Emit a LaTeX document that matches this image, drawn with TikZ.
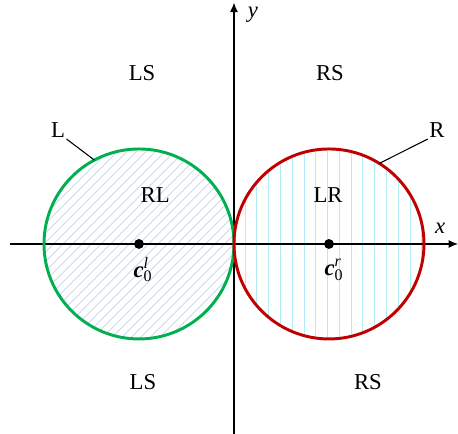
\documentclass[tikz,border=0pt]{standalone}
\usepackage{fontspec}
\setmainfont{Liberation Serif}
\definecolor{circgreen}{RGB}{0,176,80}
\definecolor{circred}{RGB}{192,0,0}
\definecolor{hatchblue}{RGB}{205,218,236}
\definecolor{hatchcyan}{RGB}{175,238,245}
\newcommand{\cvec}[1]{\textbf{\textit{c}}\rlap{\raisebox{-0.45ex}{\fontsize{12}{12}\selectfont 0}}\raisebox{0.85ex}{\fontsize{12}{12}\selectfont\textit{#1}}}
\tikzset{
	region/.style={font=\fontsize{17}{19}\selectfont, inner sep=1pt},
	axis/.style={line width=0.9pt, -{Latex[length=7pt,width=6pt]}},
	leader/.style={line width=0.8pt}
}
\usetikzlibrary{arrows.meta,calc}
\begin{document}
\begin{tikzpicture}[x=2.5cm,y=2.5cm]
		\useasboundingbox (-2.463,-2.0) rectangle (2.358,2.568);
		%draw hatching
		\begin{scope}
			\clip (-1,0) circle (1);
			\foreach \i in {-30,...,30}
				\draw [hatchblue, line width=0.6pt] ({-1+0.1*\i-1.2},-1.2) -- ({-1+0.1*\i+1.2},1.2);
		\end{scope}
		\begin{scope}
			\clip (1,0) circle (1);
			\foreach \i in {0,...,16}
				\draw [hatchcyan, line width=0.6pt] ({0.117+0.124*\i},-1.1) -- ({0.117+0.124*\i},1.1);
		\end{scope}
		%draw coordinate system
		\coordinate (xs) at (-2.358,0);
		\coordinate (xe) at (2.358,0);
		\coordinate (ys) at (0,-2.0);
		\coordinate (ye) at (0,2.54);
		\draw [axis] (xs) -- (xe);
		\draw [axis] (ys) -- (ye);
		\node [region] (xlab) at (2.17,0.17) {\textit{x}};
		\node [region] (ylab) at (0.2,2.41) {\textit{y}};
		%draw circles
		\draw [circgreen, line width=2.2pt] (-1,0) circle (1);
		\draw [circred, line width=2.2pt] (1,0) circle (1);
		\fill (-1,0) circle (0.052) coordinate (cl);
		\fill (1,0) circle (0.052) coordinate (cr);
		\node [region] (cllab) at (-0.98,-0.27) {\cvec{l}};
		\node [region] (crlab) at (1.04,-0.27) {\cvec{r}};
		%draw labels
		\node [region] (lsu) at (-0.968,1.8) {LS};
		\node [region] (rsu) at (1.01,1.8) {RS};
		\node [region] (lsd) at (-0.958,-1.453) {LS};
		\node [region] (rsd) at (1.41,-1.453) {RS};
		\node [region] (rl) at (-0.83,0.516) {RL};
		\node [region] (lr) at (0.99,0.516) {LR};
		\node [region] (L) at (-1.853,1.2) {L};
		\node [region] (R) at (2.137,1.2) {R};
		\coordinate (lpt) at ($(-1,0)+(118:1)$);
		\coordinate (rpt) at ($(1,0)+(58:1)$);
		\draw [leader] (L.south east) -- (lpt);
		\draw [leader] (R.south west) -- (rpt);
\end{tikzpicture}
\end{document}
